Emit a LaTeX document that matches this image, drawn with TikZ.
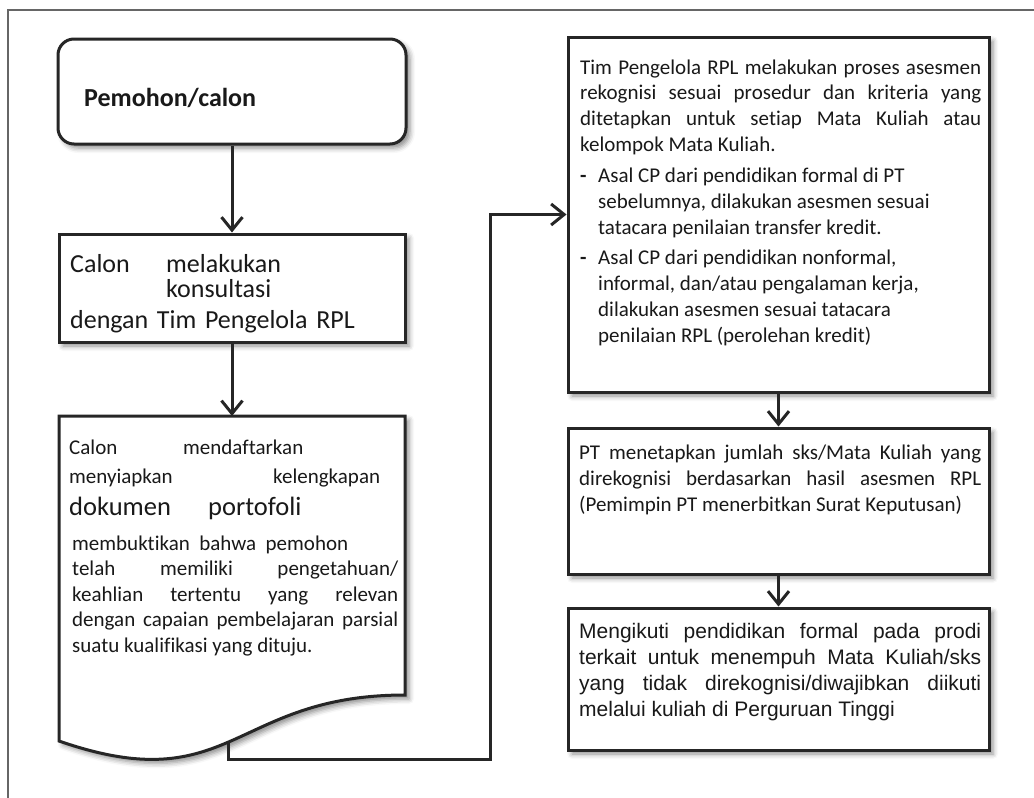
\documentclass[tikz,border=0pt]{standalone}
\usepackage{fontspec}
\setmainfont{Carlito}[Ligatures=NoCommon]
\newfontfamily\arialfont{Liberation Sans}
\usetikzlibrary{arrows.meta,calc,shadows.blur}

\newcommand{\fsz}[2]{\fontsize{#1}{#2}\selectfont\lineskiplimit=-100pt\relax}

\begin{document}
\begin{tikzpicture}[x=1pt, y=-1pt, >={Straight Barb[length=13pt,width=21pt]}]
\tikzstyle{box}=[draw=black!85, line width=3pt, fill=white, inner sep=0pt,
  blur shadow={shadow xshift=4pt, shadow yshift=-4pt, shadow blur radius=5pt, shadow opacity=45}]
\tikzstyle{txt}=[inner sep=0pt, anchor=base west, align=justify, text=black!90]
\tikzstyle{conn}=[->, line width=3pt, draw=black!85]

\useasboundingbox (0,0) rectangle (1034,798);
% frame
\draw[line width=2.5pt, black!60] (8,798) -- (8,10) -- (1034,10);

% left column
\node[box, rounded corners=16pt, minimum width=348pt, minimum height=105pt] (b1) at (232,91.5) {};
\node[box, minimum width=346pt, minimum height=108pt] (b2) at (232,288) {};
\draw[box] (59,416) -- (405,416) -- (405,695) .. controls (232,695) and (232,801) .. (59,741) -- cycle;
\coordinate (b3n) at (232,416);
\coordinate (b3s) at (228,741);

% right column
\node[box, minimum width=421pt, minimum height=355pt] (b4) at (778.5,214.5) {};
\node[box, minimum width=421pt, minimum height=146pt] (b5) at (778.5,501) {};
\node[box, minimum width=421pt, minimum height=142pt] (b6) at (778.5,679) {};

% texts
\node[txt, font=\fsz{26}{30}\bfseries] (t1) at (84,106) {Pemohon/calon};
\node[txt, text width=300pt, align=left, font=\fsz{26}{25}] (t2) at (70,272)
  {\makebox[96pt][l]{Calon}melakukan\\ \hspace*{96pt}konsultasi\\[6pt]
   \makebox[294pt][s]{dengan Tim Pengelola RPL}};
\node[txt, text width=330pt, align=left, font=\fsz{21}{29}] (t3a) at (69,454)
  {\makebox[114pt][l]{Calon}mendaftarkan\\ \makebox[204pt][l]{menyiapkan}kelengkapan};
\node[txt, font=\fsz{26.5}{30}] (t3b) at (69,515) {\makebox[139pt][l]{dokumen}portofoli};
\node[txt, text width=326pt, font=\fsz{21}{25.5}] (t3c) at (72,550)
  {\makebox[276pt][s]{membuktikan bahwa pemohon}\\
   telah memiliki pengetahuan/\linebreak
   keahlian tertentu yang relevan\linebreak
   dengan capaian pembelajaran parsial\linebreak
   suatu kualifikasi yang dituju.};
\node[txt, text width=401pt, font=\fsz{21}{25.7}] (t4) at (580,74)
  {Tim Pengelola RPL melakukan proses asesmen\linebreak
   rekognisi sesuai prosedur dan kriteria yang\linebreak
   ditetapkan untuk setiap Mata Kuliah atau\linebreak
   kelompok Mata Kuliah.\\[6pt]
   \makebox[18pt][l]{\textbf{-}}Asal CP dari pendidikan formal di PT\\
   \hspace*{18pt}sebelumnya, dilakukan asesmen sesuai\\
   \hspace*{18pt}tatacara penilaian transfer kredit.\\[5pt]
   \makebox[18pt][l]{\textbf{-}}Asal CP dari pendidikan nonformal,\\
   \hspace*{18pt}informal, dan/atau pengalaman kerja,\\
   \hspace*{18pt}dilakukan asesmen sesuai tatacara\\
   \hspace*{18pt}penilaian RPL (perolehan kredit)};
\node[txt, text width=402pt, font=\fsz{21}{26}] (t5) at (579,459)
  {PT menetapkan jumlah sks/Mata Kuliah yang\linebreak
   direkognisi berdasarkan hasil asesmen RPL\linebreak
   (Pemimpin PT menerbitkan Surat Keputusan)};
\node[txt, text width=402pt, font=\arialfont\fsz{21}{26.3}] (t6) at (579,638)
  {Mengikuti pendidikan formal pada prodi\linebreak
   terkait untuk menempuh Mata Kuliah/sks\linebreak
   yang tidak direkognisi/diwajibkan diikuti\linebreak
   melalui kuliah di Perguruan Tinggi};

% connectors
\draw[conn] (b1) -- (b2);
\draw[conn] (b2) -- (b3n);
\draw[conn] (b3s) -- ++(0,18) -| ([xshift=-76pt]b4.west) -- (b4.west);
\draw[conn] (b4) -- (b5);
\draw[conn] (b5) -- (b6);
\end{tikzpicture}
\end{document}
